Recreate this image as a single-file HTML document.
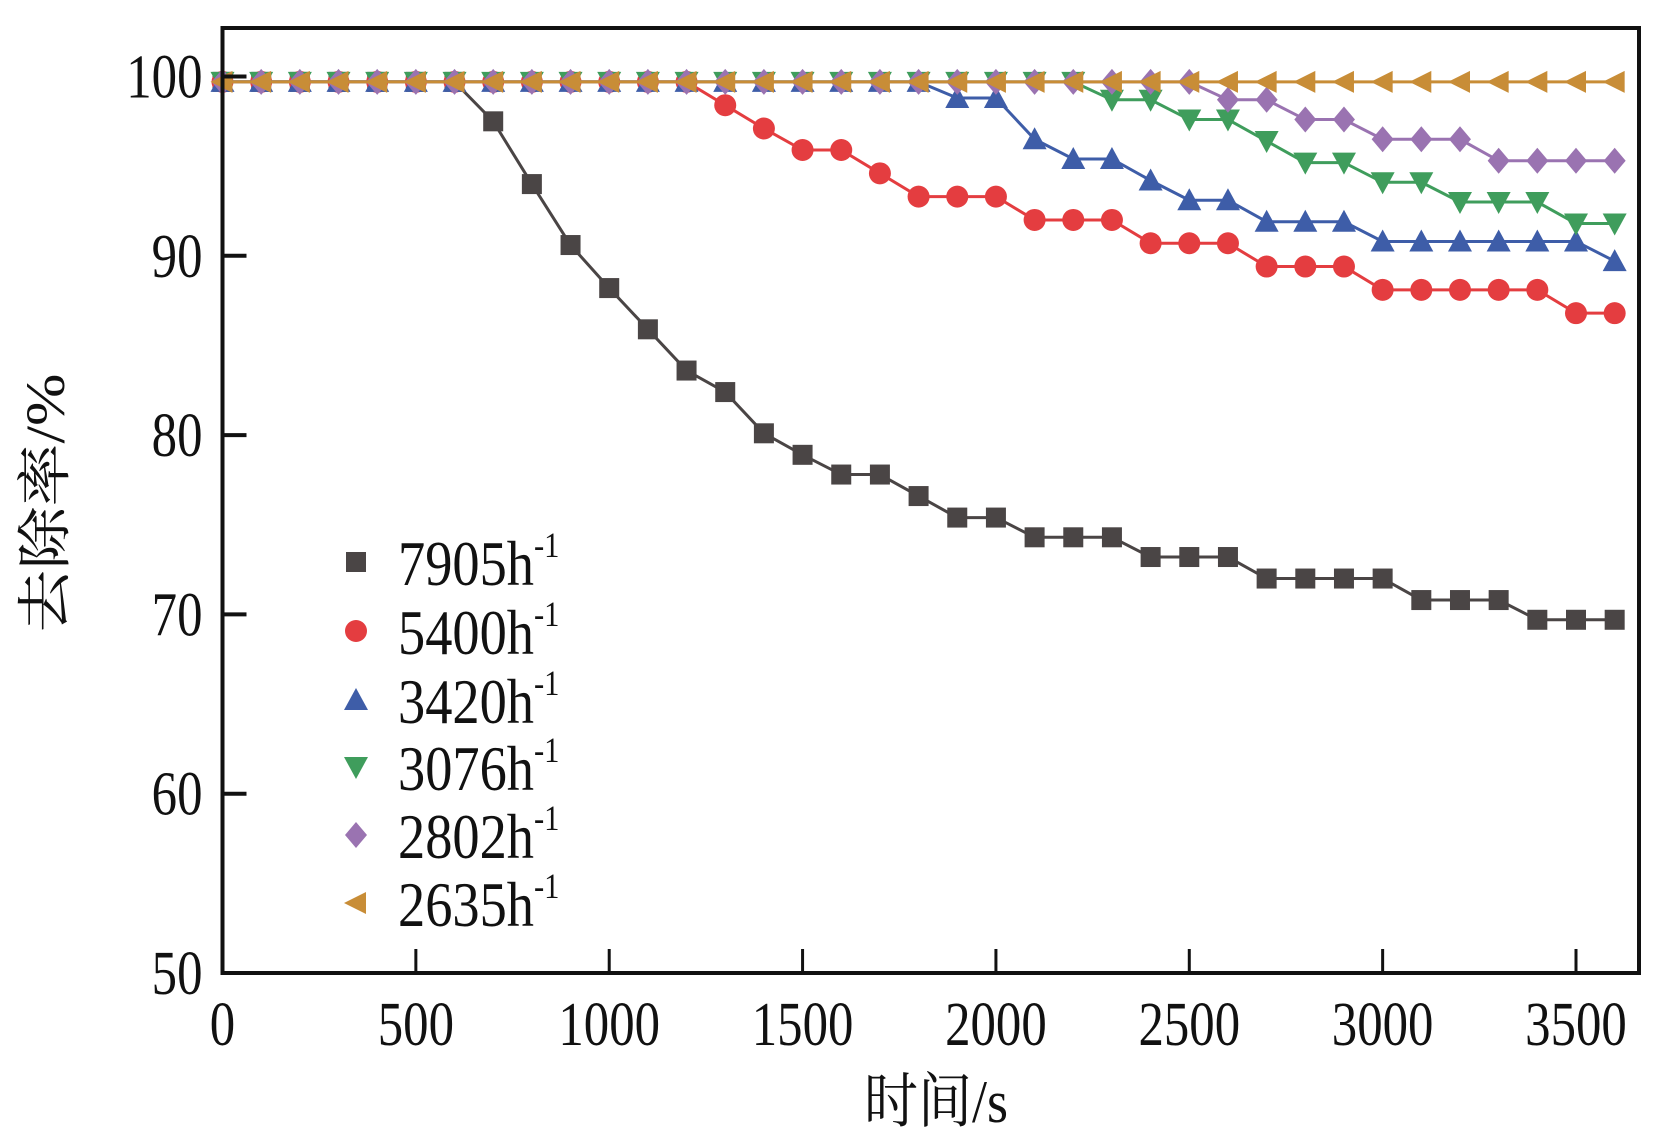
<!DOCTYPE html>
<html><head><meta charset="utf-8"><style>
html,body{margin:0;padding:0;background:#fff;}
svg{display:block;}
text{font-family:"Liberation Serif","Noto Serif CJK SC",serif;fill:#111;}
</style></head><body>
<svg id="chart" width="1669" height="1138" viewBox="0 0 1669 1138" xmlns="http://www.w3.org/2000/svg">
<g id="plot"></g>
</svg>
<script>
const times = [0,100,200,300,400,500,600,700,800,900,1000,1100,1200,1300,1400,1500,1600,1700,1800,1900,2000,2100,2200,2300,2400,2500,2600,2700,2800,2900,3000,3100,3200,3300,3400,3500,3600];
const s7905 = [99.7,99.7,99.7,99.7,99.7,99.7,99.7,97.5,94.0,90.6,88.2,85.9,83.6,82.4,80.1,78.9,77.8,77.8,76.6,75.4,75.4,74.3,74.3,74.3,73.2,73.2,73.2,72.0,72.0,72.0,72.0,70.8,70.8,70.8,69.7,69.7,69.7];
const s5400 = [99.7,99.7,99.7,99.7,99.7,99.7,99.7,99.7,99.7,99.7,99.7,99.7,99.7,98.4,97.1,95.9,95.9,94.6,93.3,93.3,93.3,92.0,92.0,92.0,90.7,90.7,90.7,89.4,89.4,89.4,88.1,88.1,88.1,88.1,88.1,86.8,86.8];
const s3420 = [99.7,99.7,99.7,99.7,99.7,99.7,99.7,99.7,99.7,99.7,99.7,99.7,99.7,99.7,99.7,99.7,99.7,99.7,99.7,98.8,98.8,96.5,95.4,95.4,94.2,93.1,93.1,91.9,91.9,91.9,90.8,90.8,90.8,90.8,90.8,90.8,89.7];
const s3076 = [99.7,99.7,99.7,99.7,99.7,99.7,99.7,99.7,99.7,99.7,99.7,99.7,99.7,99.7,99.7,99.7,99.7,99.7,99.7,99.7,99.7,99.7,99.7,98.7,98.7,97.6,97.6,96.4,95.2,95.2,94.1,94.1,93.0,93.0,93.0,91.8,91.8];
const s2802 = [99.7,99.7,99.7,99.7,99.7,99.7,99.7,99.7,99.7,99.7,99.7,99.7,99.7,99.7,99.7,99.7,99.7,99.7,99.7,99.7,99.7,99.7,99.7,99.7,99.7,99.7,98.7,98.7,97.6,97.6,96.5,96.5,96.5,95.3,95.3,95.3,95.3];
const s2635 = [99.7,99.7,99.7,99.7,99.7,99.7,99.7,99.7,99.7,99.7,99.7,99.7,99.7,99.7,99.7,99.7,99.7,99.7,99.7,99.7,99.7,99.7,99.7,99.7,99.7,99.7,99.7,99.7,99.7,99.7,99.7,99.7,99.7,99.7,99.7,99.7,99.7];
const seriesLabels = ["7905","5400","3420","3076","2802","2635"];
const xTicks = [0,500,1000,1500,2000,2500,3000,3500];
const yTicks = [50,60,70,80,90,100];

const NS="http://www.w3.org/2000/svg";
const L=222.5,R=1639,T=28,B=973;
const x=v=>222.5+(v/3500)*(1576-222.5);
const y=v=>973-(v-50)/50*(973-76.5);
const g=document.getElementById('plot');
function mk(tag,attrs,parent){const e=document.createElementNS(NS,tag);for(const k in attrs)e.setAttribute(k,attrs[k]);(parent||g).appendChild(e);return e;}

const colors=["#4a4545","#e43d40","#3e5da8","#3f9d5c","#9a73b1","#c88d37"];
const shapes=["square","circle","up","down","diamond","left"];
const allSeries=[s7905,s5400,s3420,s3076,s2802,s2635];

function marker(shape,cx,cy,c,parent){
  const r=11;let e;
  if(shape==="square")e=mk('rect',{x:cx-r+1,y:cy-r+1,width:2*r-2,height:2*r-2,fill:c},parent);
  else if(shape==="circle")e=mk('circle',{cx:cx,cy:cy,r:r,fill:c},parent);
  else{let p;
    if(shape==="up")p=[[cx,cy-r-1],[cx+r+1,cy+r-1],[cx-r-1,cy+r-1]];
    else if(shape==="down")p=[[cx,cy+r+1],[cx+r+1,cy-r+1],[cx-r-1,cy-r+1]];
    else if(shape==="diamond")p=[[cx,cy-r-2],[cx+r,cy],[cx,cy+r+2],[cx-r,cy]];
    else p=[[cx-r-1,cy],[cx+r-1,cy-r],[cx+r-1,cy+r]];
    e=mk('polygon',{points:p.map(q=>q.join(',')).join(' '),fill:c},parent);}
  return e;
}

allSeries.forEach((s,i)=>{
  const sg=mk('g',{});
  
  
  const pl=mk('polyline',{points:s.map((v,j)=>x(times[j])+','+y(v)).join(' '),fill:'none',stroke:colors[i],'stroke-width':3},sg);
  
  
  s.forEach((v,j)=>{const m=marker(shapes[i],x(times[j]),y(v),colors[i],sg);
    
    });
});

const fr=mk('rect',{x:L,y:T,width:R-L,height:B-T,fill:'none',stroke:'#111','stroke-width':4});



xTicks.forEach(t=>{
  if(t>0){const tk=mk('line',{x1:x(t),x2:x(t),y1:B,y2:B-24,stroke:'#111','stroke-width':3});
    
    }
  const tx=mk('text',{x:0,y:0,'font-size':62,'text-anchor':'middle',transform:'translate('+x(t)+','+(B+72)+') scale(0.82,1)'});
  tx.textContent=t;
  
  
});
yTicks.forEach(t=>{
  if(t>50){const tk=mk('line',{x1:L,x2:L+24,y1:y(t),y2:y(t),stroke:'#111','stroke-width':4});
    
    }
  const tx=mk('text',{x:0,y:0,'font-size':62,'text-anchor':'end',transform:'translate('+(L-20)+','+(y(t)+21)+') scale(0.82,1)'});
  tx.textContent=t;
  
  
});

const xt=mk('text',{x:0,y:0,'font-size':60,'text-anchor':'middle',transform:'translate(936,1122) scale(0.9,1)'});
xt.textContent='时间/s';


const yt=mk('text',{x:0,y:0,'font-size':60,'text-anchor':'middle',transform:'translate(64,503) rotate(-90) scale(1.05,0.92)'});
yt.textContent='去除率/%';



const lg=mk('g',{});


const legY=[562,631,700,767,835,903];
seriesLabels.forEach((lab,i)=>{
  const eg=mk('g',{},lg);
  
  
  marker(shapes[i],356,legY[i],colors[i],eg);
  const t=mk('text',{x:0,y:0,'font-size':64,transform:'translate(398,'+(legY[i]+23)+') scale(0.85,1)'},eg);
  t.textContent=lab+'h';
  const sup=mk('tspan',{'font-size':36,dy:-28},t);
  sup.textContent='-1';
});
</script>
</body></html>
